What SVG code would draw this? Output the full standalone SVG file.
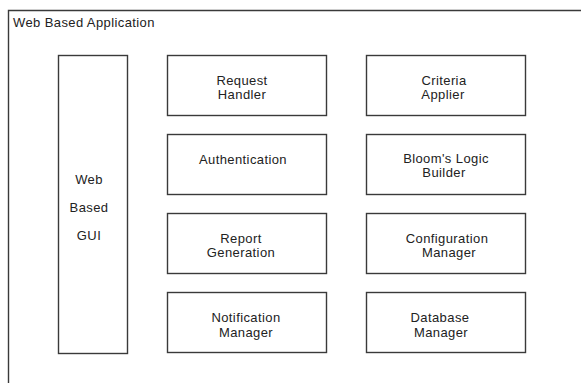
<svg xmlns="http://www.w3.org/2000/svg" width="581" height="383" viewBox="0 0 581 383">
<style>
rect.b{fill:#fff;stroke:#3a3a3a;stroke-width:1.4}
text{font-family:"Liberation Sans",Arial,sans-serif;font-size:13px;fill:#222;letter-spacing:0.4px}
.c{text-anchor:middle}
</style>
<rect width="581" height="383" fill="#fff"/>
<g id="frame">
<path d="M8.5,383 V10.5 H581" fill="none" stroke="#3a3a3a" stroke-width="1.4"/>
<text x="13" y="27">Web Based Application</text>
</g>
<g id="connectors"></g>
<g id="gui">
<rect class="b" x="58.5" y="55.5" width="69" height="298"/>
<text class="c" x="89" y="184">Web</text>
<text class="c" x="89" y="212">Based</text>
<text class="c" x="89" y="240">GUI</text>
</g>
<g id="request-handler">
<rect class="b" x="167.5" y="55.5" width="159" height="60"/>
<text class="c" x="242" y="85">Request</text>
<text class="c" x="242" y="99">Handler</text>
</g>
<g id="authentication">
<rect class="b" x="167.5" y="134.5" width="159" height="60"/>
<text class="c" x="243" y="164">Authentication</text>
</g>
<g id="report-generation">
<rect class="b" x="167.5" y="213.5" width="159" height="60"/>
<text class="c" x="241" y="243">Report</text>
<text class="c" x="241" y="257">Generation</text>
</g>
<g id="notification-manager">
<rect class="b" x="167.5" y="292.5" width="159" height="60"/>
<text class="c" x="246" y="322">Notification</text>
<text class="c" x="246" y="337">Manager</text>
</g>
<g id="criteria-applier">
<rect class="b" x="366.5" y="55.5" width="159" height="60"/>
<text class="c" x="444" y="85">Criteria</text>
<text class="c" x="443" y="99">Applier</text>
</g>
<g id="blooms-logic-builder">
<rect class="b" x="366.5" y="134.5" width="159" height="60"/>
<text class="c" x="446" y="163">Bloom's Logic</text>
<text class="c" x="444" y="177">Builder</text>
</g>
<g id="configuration-manager">
<rect class="b" x="366.5" y="213.5" width="159" height="60"/>
<text class="c" x="447" y="243">Configuration</text>
<text class="c" x="449" y="257">Manager</text>
</g>
<g id="database-manager">
<rect class="b" x="366.5" y="292.5" width="159" height="60"/>
<text class="c" x="440" y="322">Database</text>
<text class="c" x="441" y="337">Manager</text>
</g>
</svg>
